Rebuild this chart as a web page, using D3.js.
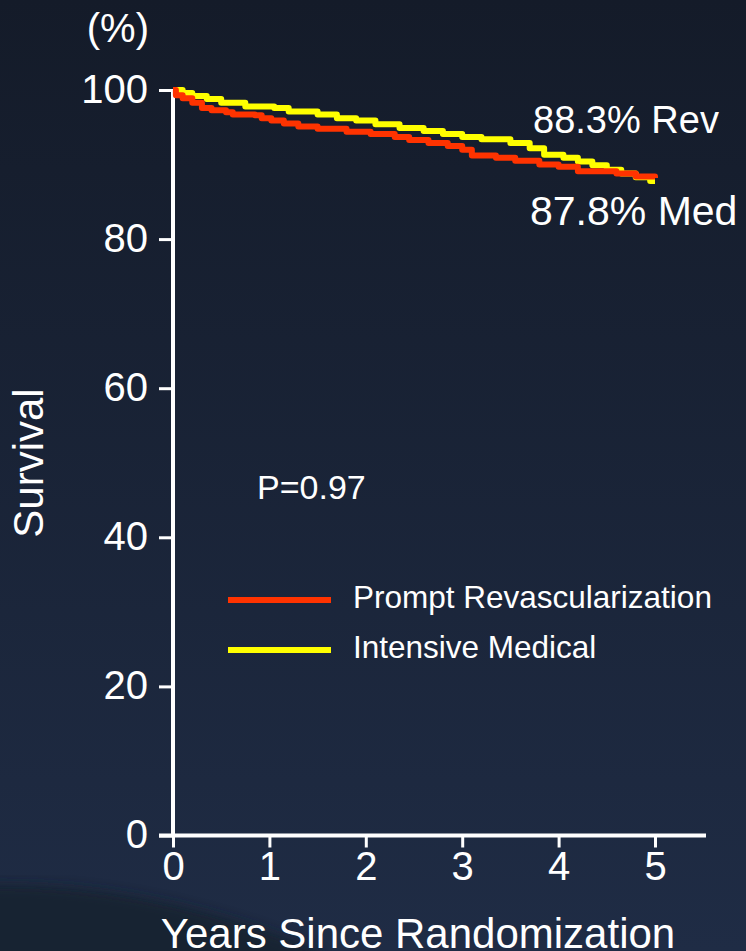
<!DOCTYPE html>
<html>
<head>
<meta charset="utf-8">
<script src="https://cdn.jsdelivr.net/npm/d3@7"></script>
<style>
  html, body { margin: 0; padding: 0; background: #182236; }
  svg { display: block; }
  text { font-family: Arial, "Liberation Sans", sans-serif; fill: #fff; }
</style>
</head>
<body>
<div id="chart"></div>
<script>
// survival curves (years, % alive)
const revascTimes = [0, 0.03, 0.1, 0.2, 0.3, 0.4, 0.55, 0.62, 0.85, 0.92, 1.02, 1.15, 1.3, 1.5, 1.8, 2.05, 2.3, 2.45, 2.65, 2.85, 3.0, 3.1, 3.35, 3.55, 3.8, 4.0, 4.2, 4.6, 4.8, 5.0];
const revascSurv  = [100, 99.3, 98.9, 98.3, 97.6, 97.3, 97.0, 96.7, 96.6, 96.2, 95.9, 95.5, 95.1, 94.8, 94.4, 94.1, 93.7, 93.3, 92.9, 92.5, 92.0, 91.2, 90.9, 90.5, 90.0, 89.7, 89.1, 88.8, 88.4, 88.2];
const medTimes = [0, 0.1, 0.2, 0.35, 0.5, 0.75, 1.05, 1.2, 1.5, 1.7, 1.9, 2.1, 2.35, 2.6, 2.8, 3.0, 3.2, 3.5, 3.7, 3.85, 4.05, 4.2, 4.35, 4.5, 4.65, 4.8, 4.95, 5.0];
const medSurv  = [100, 99.6, 99.2, 98.8, 98.3, 97.8, 97.6, 97.1, 96.7, 96.2, 95.9, 95.4, 94.9, 94.5, 94.1, 93.7, 93.4, 92.9, 92.2, 91.3, 90.9, 90.4, 89.9, 89.3, 88.8, 88.3, 87.8, 87.8];

const xTicks = [0, 1, 2, 3, 4, 5];
const yTicks = [0, 20, 40, 60, 80, 100];
const seriesNames = ["Prompt Revascularization", "Intensive Medical"];
const seriesColors = ["#ff3300", "#ffff00"];
const endLabels = ["88.3% Rev", "87.8% Med"];

const width = 746, height = 951;
const x0 = 173, xAxisEnd = 706;

const svg = d3.select("#chart").append("svg")
    .attr("width", width)
    .attr("height", height);

// background
const defs = svg.append("defs");
const grad = defs.append("linearGradient")
    .attr("id", "bg").attr("x1", 0).attr("y1", 0).attr("x2", 0).attr("y2", 1);
grad.append("stop").attr("offset", "0%").attr("stop-color", "#141b29");
grad.append("stop").attr("offset", "100%").attr("stop-color", "#1f2c45");
defs.append("filter").attr("id", "blur")
    .append("feGaussianBlur").attr("stdDeviation", 6);

svg.append("rect").attr("width", width).attr("height", height).attr("fill", "url(#bg)");
svg.append("path")
    .attr("d", "M-20,885 Q150,880 320,951 L320,980 L-20,980 Z")
    .attr("fill", "#18202f")
    .attr("opacity", 0.8)
    .attr("filter", "url(#blur)");

const x = d3.scaleLinear().domain([0, 5]).range([x0, 655]);
const y = d3.scaleLinear().domain([0, 100]).range([835.5, 90]);

// axes
const xAxis = svg.append("g")
    .attr("transform", `translate(0,${y(0)})`)
    .call(d3.axisBottom(x).tickValues(xTicks).tickSize(12).tickPadding(4).tickFormat(d3.format("d")));
xAxis.select(".domain").remove();
xAxis.append("line")
    .attr("x1", 159).attr("x2", xAxisEnd)
    .attr("stroke", "#fff").attr("stroke-width", 4);
xAxis.selectAll(".tick line").attr("stroke", "#fff").attr("stroke-width", 3);
xAxis.selectAll(".tick text")
    .attr("fill", "#fff")
    .style("font-size", "40px")
    .style("font-family", "Arial, 'Liberation Sans', sans-serif");

const yAxis = svg.append("g")
    .attr("transform", `translate(${x0},0)`)
    .call(d3.axisLeft(y).tickValues(yTicks).tickSize(14).tickPadding(11).tickFormat(d3.format("d")));
yAxis.select(".domain").remove();
yAxis.append("line")
    .attr("y1", y(100)).attr("y2", y(0))
    .attr("stroke", "#fff").attr("stroke-width", 4);
yAxis.selectAll(".tick line").attr("stroke", "#fff").attr("stroke-width", 3);
yAxis.selectAll(".tick text")
    .attr("fill", "#fff")
    .attr("dy", "0.3em")
    .style("font-size", "40px")
    .style("font-family", "Arial, 'Liberation Sans', sans-serif");

// curves
const series = [
    revascTimes.map((t, i) => ({ t, s: revascSurv[i] })),
    medTimes.map((t, i) => ({ t, s: medSurv[i] }))
];
const line = d3.line()
    .x(d => x(d.t))
    .y(d => y(d.s))
    .curve(d3.curveStepAfter);

// draw yellow first so red sits on top where they meet
[1, 0].forEach(i => {
    svg.append("path")
        .datum(series[i])
        .attr("d", line)
        .attr("fill", "none")
        .attr("stroke", seriesColors[i])
        .attr("stroke-width", 6)
        .attr("stroke-linejoin", "round");
});

// texts
svg.append("text").attr("x", 149).attr("y", 42)
    .attr("text-anchor", "end").style("font-size", "40px").text("(%)");

svg.append("text")
    .attr("transform", "translate(43,463) rotate(-90)")
    .attr("text-anchor", "middle")
    .style("font-size", "42px")
    .text("Survival");

svg.append("text").attr("x", 418).attr("y", 948)
    .attr("text-anchor", "middle").style("font-size", "42px")
    .text("Years Since Randomization");

svg.append("text").attr("x", 257).attr("y", 499)
    .style("font-size", "34px").text("P=0.97");

svg.append("text").attr("x", 533).attr("y", 133)
    .style("font-size", "38px").text(endLabels[0]);
svg.append("text").attr("x", 530).attr("y", 225)
    .style("font-size", "41px").text(endLabels[1]);

// legend
const legend = svg.selectAll(".legend")
    .data(seriesNames)
    .enter()
    .append("g")
    .attr("class", "legend")
    .attr("transform", (d, i) => `translate(228,${600 + i * 50})`);

legend.append("line")
    .attr("x1", 0).attr("x2", 103)
    .attr("stroke", (d, i) => seriesColors[i])
    .attr("stroke-width", 6);

legend.append("text")
    .attr("x", 125)
    .attr("y", 8)
    .style("font-size", "31.5px")
    .text(d => d);
</script>
</body>
</html>
